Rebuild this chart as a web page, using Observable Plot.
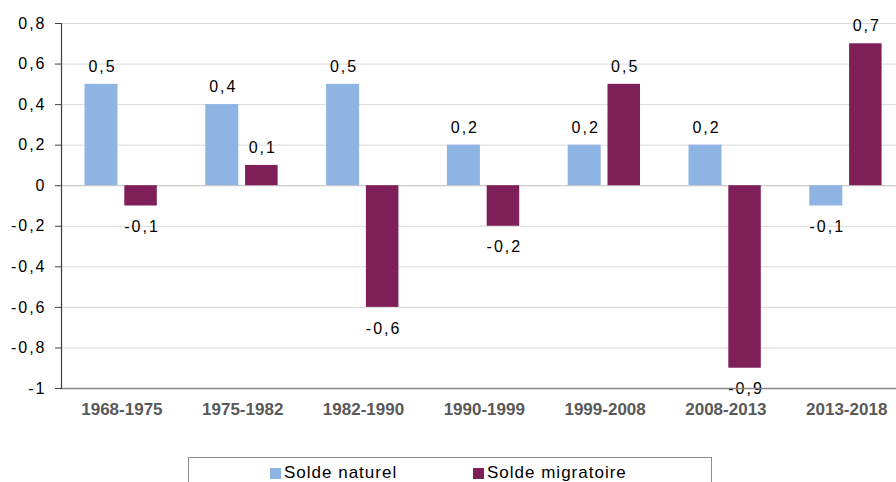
<!DOCTYPE html>
<html>
<head>
<meta charset="utf-8">
<script src="https://cdn.jsdelivr.net/npm/d3@7"></script>
<script src="https://cdn.jsdelivr.net/npm/@observablehq/plot@0.6"></script>
<style>
  html, body { margin: 0; padding: 0; background: #fff; width: 896px; height: 482px; overflow: hidden; position: relative; }
  #chart svg { display: block; }
  #chart g[aria-label="text"] text { letter-spacing: 2px; }
  #chart g[aria-label="y-axis tick label"] text { letter-spacing: 2px; }
  #legend { position: absolute; left: 188px; top: 457px; width: 524px; height: 40px; border: 1px solid #8c8c8c; box-sizing: border-box; font-family: "Liberation Sans", Arial, sans-serif; font-size: 17px; letter-spacing: 1px; color: #000; }
  .item { position: absolute; top: 5px; display: flex; align-items: center; white-space: nowrap; }
  .sw { width: 11px; height: 11px; margin-right: 3px; display: inline-block; }
</style>
</head>
<body>
<div id="chart"></div>
<div id="legend"></div>
<script>
const periods = ["1968-1975","1975-1982","1982-1990","1990-1999","1999-2008","2008-2013","2013-2018"];
const soldeNaturel = [0.5, 0.4, 0.5, 0.2, 0.2, 0.2, -0.1];
const soldeMigratoire = [-0.1, 0.1, -0.6, -0.2, 0.5, -0.9, 0.7];
const series = ["Solde naturel", "Solde migratoire"];
const colors = ["#8db4e2", "#7f1f5a"];
const yTicks = [-1, -0.8, -0.6, -0.4, -0.2, 0, 0.2, 0.4, 0.6, 0.8];

const fmt = d => d === 0 ? "0" : String(d).replace(".", ",");
const nat = periods.map((p, i) => ({period: p, value: soldeNaturel[i]}));
const mig = periods.map((p, i) => ({period: p, value: soldeMigratoire[i]}));

const band = 120.8;
const plot = Plot.plot({
  width: 896,
  height: 440,
  marginTop: 23,
  marginBottom: 52,
  marginLeft: 61,
  marginRight: 0,
  style: {fontFamily: "'Liberation Sans', Arial, sans-serif", background: "#fff", color: "#000"},
  x: {domain: periods, range: [61, 61 + band * periods.length], padding: 0, round: false, axis: null, label: null},
  y: {domain: [-1, 0.8], range: [388, 23], axis: null, label: null},
  marks: [
    Plot.ruleY(yTicks.filter(d => d !== -1 && d !== 0), {stroke: "#d9d9d9", strokeWidth: 1}),
    Plot.ruleY([0], {stroke: "#bfbfbf", strokeWidth: 1}),
    Plot.barY(nat, {x: "period", y: "value", fill: colors[0], insetLeft: 23.5, insetRight: band - 23.5 - 33}),
    Plot.barY(mig, {x: "period", y: "value", fill: colors[1], insetLeft: 63.3, insetRight: band - 63.3 - 32.5}),
    Plot.text(nat, {filter: d => d.value >= 0, x: "period", y: "value", text: d => fmt(d.value), dx: -19.4, dy: -17.5, fontSize: 16, fill: "#000"}),
    Plot.text(nat, {filter: d => d.value < 0, x: "period", y: "value", text: d => fmt(d.value), dx: -19.4, dy: 21, fontSize: 16, fill: "#000"}),
    Plot.text(mig, {filter: d => d.value >= 0, x: "period", y: "value", text: d => fmt(d.value), dx: 20.1, dy: -17.5, fontSize: 16, fill: "#000"}),
    Plot.text(mig, {filter: d => d.value < 0, x: "period", y: "value", text: d => fmt(d.value), dx: 20.1, dy: 21, fontSize: 16, fill: "#000"}),
    Plot.frame({anchor: "bottom", stroke: "#868686", strokeWidth: 1.5}),
    Plot.frame({anchor: "left", stroke: "#404040", strokeWidth: 1.2}),
    Plot.axisY(yTicks, {tickSize: 6, tickPadding: 9, tickFormat: fmt, fontSize: 16, stroke: "#404040", fill: "#000", label: null}),
    Plot.axisX(periods, {tickSize: 0, tickPadding: 14, fontSize: 17, fontWeight: "bold", fill: "#595959", label: null})
  ]
});
document.getElementById("chart").appendChild(plot);

const legend = document.getElementById("legend");
const lefts = [81, 284];
series.forEach((s, i) => {
  const it = document.createElement("div");
  it.className = "item";
  it.style.left = lefts[i] + "px";
  const sw = document.createElement("span");
  sw.className = "sw";
  sw.style.background = colors[i];
  const tx = document.createElement("span");
  tx.textContent = s;
  it.appendChild(sw);
  it.appendChild(tx);
  legend.appendChild(it);
});
</script>
</body>
</html>
